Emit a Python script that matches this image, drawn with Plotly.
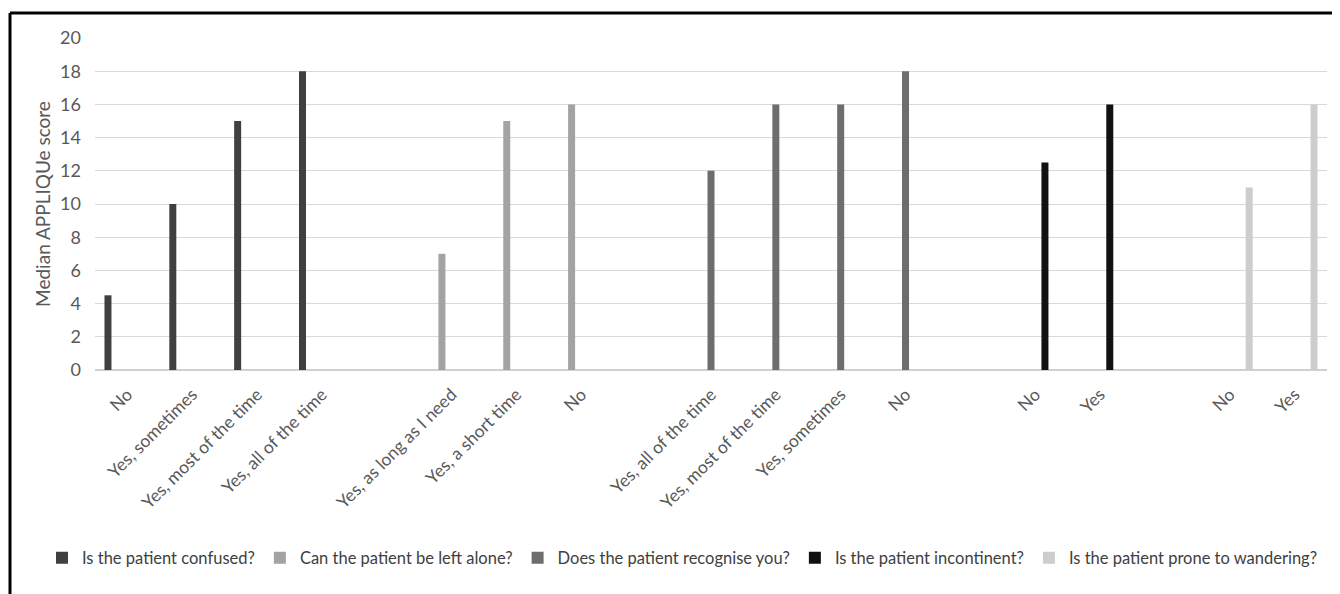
import plotly.graph_objects as go

# ---- data ----
series_names = [
    "Is the patient confused?",
    "Can the patient be left alone?",
    "Does the patient recognise you?",
    "Is the patient incontinent?",
    "Is the patient prone to wandering?",
]
confused_labels = ["No", "Yes, sometimes", "Yes, most of the time", "Yes, all of the time"]
confused_values = [4.5, 10, 15, 18]
alone_labels = ["Yes, as long as I need", "Yes, a short time", "No"]
alone_values = [7, 15, 16]
recognise_labels = ["Yes, all of the time", "Yes, most of the time", "Yes, sometimes", "No"]
recognise_values = [12, 16, 16, 18]
incontinent_labels = ["No", "Yes"]
incontinent_values = [12.5, 16]
wandering_labels = ["No", "Yes"]
wandering_values = [11, 16]

colors = ["#404040", "#a3a3a3", "#6d6d6d", "#111111", "#cdcdcd"]

groups = [
    (confused_labels, confused_values),
    (alone_labels, alone_values),
    (recognise_labels, recognise_values),
    (incontinent_labels, incontinent_values),
    (wandering_labels, wandering_values),
]

# build category axis: groups separated by an empty category
keys, texts = [], []
group_keys = []
for gi, (labels, _) in enumerate(groups):
    if gi > 0:
        keys.append(f"gap{gi}")
        texts.append("")
    gk = []
    for lab in labels:
        k = f"{gi}:{lab}"
        keys.append(k)
        texts.append(lab)
        gk.append(k)
    group_keys.append(gk)

# clustered-column geometry (in category units): 5 slots per category
n_series = len(series_names)
slot = 0.15
bar_w = 0.108

fig = go.Figure()
for gi, (name, (labels, values)) in enumerate(zip(series_names, groups)):
    fig.add_trace(go.Bar(
        name=name,
        x=group_keys[gi],
        y=values,
        width=bar_w,
        offset=(gi - (n_series - 1) / 2) * slot - bar_w / 2,
        marker=dict(color=colors[gi], line=dict(width=0)),
    ))

font_family = "Lato, 'Open Sans', sans-serif"

W, H = 1332, 586          # page body has an 8px margin
L, R, T, B = 87, 13, 30, 224
pw, ph = W - L - R, H - T - B

fig.update_layout(
    width=W, height=H,
    paper_bgcolor="white", plot_bgcolor="white",
    barmode="overlay",
    margin=dict(l=L, r=R, t=T, b=B, autoexpand=False),
    font=dict(family=font_family, color="#595959", size=15),
    showlegend=True,
    legend=dict(
        orientation="h", xref="paper", yref="paper",
        x=(34 - L) / pw, xanchor="left", y=(H - B - 550) / ph, yanchor="middle",
        font=dict(size=16.5, color="#404040"),
        itemwidth=30, traceorder="normal",
    ),
    xaxis=dict(
        type="category", categoryorder="array", categoryarray=keys,
        tickmode="array", tickvals=keys, ticktext=texts,
        tickangle=-45, showgrid=False, showline=False, zeroline=False,
        ticks="", ticklabelstandoff=10, tickfont=dict(size=17.5, color="#595959"),
        range=[-0.5, len(keys) - 0.5],
    ),
    yaxis=dict(
        range=[0, 20], dtick=2, tick0=0,
        showgrid=True, gridcolor="#d9d9d9", gridwidth=1,
        zeroline=True, zerolinecolor="#d0d0d0", zerolinewidth=1.5,
        showline=False, ticks="", ticklabelstandoff=13,
        tickfont=dict(size=18, color="#595959"),
        title=dict(text="Median APPLIQUe score", font=dict(size=19, color="#595959"), standoff=4),
    ),
    shapes=[
        dict(type="line", xref="paper", yref="paper",
             x0=-(L - 2) / pw, x1=(W - L + 5) / pw,
             y0=1 + (T - 5) / ph, y1=1 + (T - 5) / ph,
             line=dict(color="black", width=3)),
        dict(type="line", xref="paper", yref="paper",
             x0=-(L - 2) / pw, x1=-(L - 2) / pw,
             y0=1 + (T - 5) / ph, y1=-(B + 5) / ph,
             line=dict(color="black", width=3)),
    ],
)

fig.write_html("out.html")
